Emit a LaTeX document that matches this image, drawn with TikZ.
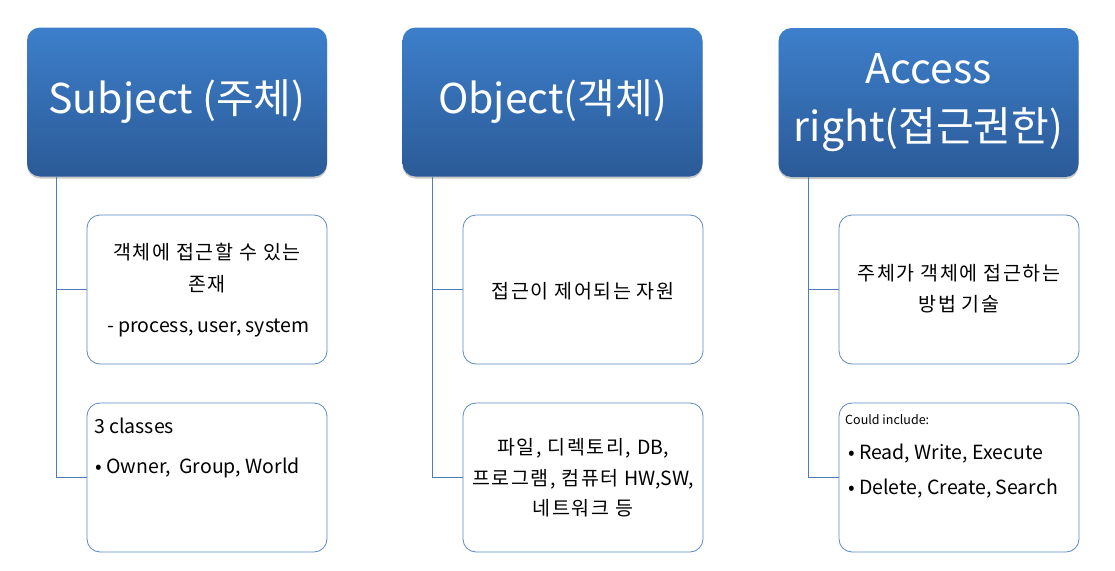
\documentclass[tikz,border=0pt]{standalone}
\usepackage{fontspec}
\setmainfont{Noto Sans CJK KR}
\newfontfamily\kor[LetterSpace=8]{Noto Sans CJK KR}
\usetikzlibrary{shadows,calc}
\definecolor{hdtop}{HTML}{3D7FCB}
\definecolor{hdbot}{HTML}{2B5A97}
\definecolor{edge}{HTML}{4A7EBB}
\definecolor{cbord}{HTML}{5A8AC6}
\tikzset{
  x=1pt,y=-1pt,
  header/.style={draw=none, rounded corners=13pt, top color=hdtop, bottom color=hdbot,
    drop shadow={shadow xshift=0pt,shadow yshift=-2pt,opacity=0.35,fill=black!60},
    minimum width=300pt, minimum height=149pt, text=white, align=center,
    font=\fontsize{41}{58}\selectfont, inner sep=0pt},
  child/.style={draw=cbord, line width=0.8pt, rounded corners=13pt, fill=white,
    minimum width=240pt, minimum height=149pt, inner sep=0pt},
  txt/.style={font=\fontsize{19.5}{31}\selectfont, inner sep=0pt},
  conn/.style={draw=edge, line width=1pt},
}
\newcommand{\latn}[1]{{\normalfont\fontsize{19.5}{30.5}\selectfont #1}}
\begin{document}
\begin{tikzpicture}
\useasboundingbox (0,0) rectangle (1115,570);
% headers
\node[header] (h1) at (177,102) {Subject (주체)};
\node[header] (h2) at (552.5,102) {Object(객체)};
\node[header] (h3) at (928.5,102.5) {Access\\right(접근권한)};
% children
\node[child] (s1) at (207,289.5) {};
\node[child] (s2) at (207,477.5) {};
\node[child] (o1) at (583,289.5) {};
\node[child] (o2) at (583,477.5) {};
\node[child] (a1) at (959,289.5) {};
\node[child] (a2) at (959,477.5) {};
% texts
\node[txt, font=\kor\fontsize{19.5}{32}\selectfont, align=center] (s1t) at (207,268.5) {객체에 접근할 수 있는\\존재};
\node[txt, anchor=west] (s1u) at (107,328) {- process, user, system};
\node[txt, anchor=west] (s2a) at (94,426) {3 classes};
\node[txt, anchor=west] (s2b) at (95,468) {• Owner,\ \ Group, World};
\node[txt, font=\kor\fontsize{19.5}{31}\selectfont] (o1t) at (583,291) {접근이 제어되는 자원};
\node[txt, font=\kor\fontsize{19.5}{30.5}\selectfont, align=center] (o2t) at (583,478) {파일, 디렉토리, \latn{DB,}\\프로그램, 컴퓨터 \latn{HW,SW,}\\네트워크 등};
\node[txt, font=\kor\fontsize{19.5}{31}\selectfont, align=center] (a1t) at (959,289) {주체가 객체에 접근하는\\방법 기술};
\node[txt, font=\fontsize{12.5}{16}\selectfont, anchor=west] (a2a) at (845,420) {Could include:};
\node[txt, anchor=west] (a2b) at (848,454) {• Read, Write, Execute};
\node[txt, anchor=west] (a2c) at (848,489) {• Delete, Create, Search};
% connectors
\foreach \h/\a/\b in {h1/s1/s2,h2/o1/o2,h3/a1/a2}{
  \coordinate (t\h) at ($(\h.south west)+(30,0)$);
  \draw[conn] (t\h) |- (\a.west);
  \draw[conn] (t\h) |- (\b.west);
}
\end{tikzpicture}
\end{document}
